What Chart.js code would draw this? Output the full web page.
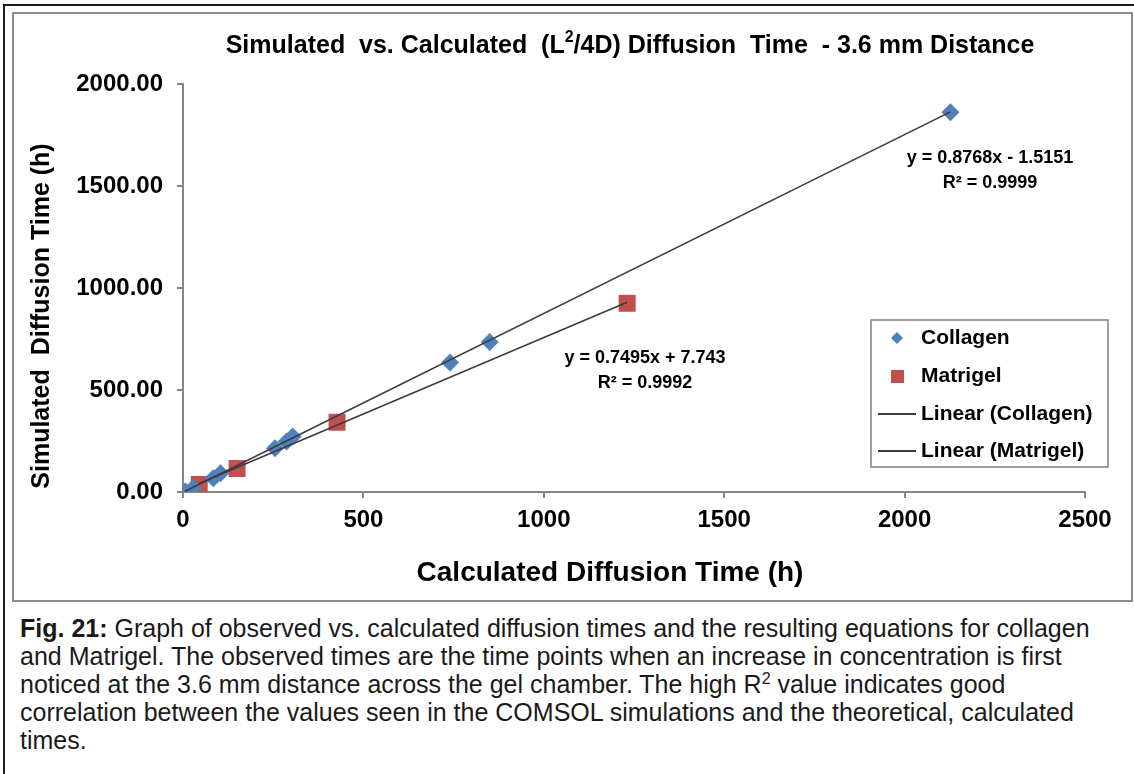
<!DOCTYPE html>
<html lang="en">
<head>
    <meta charset="UTF-8">
    <title>Simulated vs. Calculated Diffusion Time - 3.6 mm Distance</title>
    <style>
        body {
            margin: 0;
            background-color: #ffffff;
            font-family: Arial, "Liberation Sans", sans-serif;
        }
        .page {
            position: relative;
            width: 1134px;
            height: 774px;
            overflow: hidden;
        }
        .outer {
            position: absolute;
            left: 3px;
            top: 4px;
            width: 1150px;
            height: 800px;
            border: 2px solid #1e1e1e;
        }
        .frame {
            position: absolute;
            left: 12px;
            top: 12px;
            width: 1117px;
            height: 586px;
            border: 2px solid #8c8c8c;
            background-color: #ffffff;
        }
        .chart-box {
            position: absolute;
            left: 14px;
            top: 14px;
            width: 1116px;
            height: 584px;
        }
        .caption {
            position: absolute;
            left: 20px;
            top: 614px;
            font-size: 25px;
            line-height: 28px;
            color: #1a1a1a;
            white-space: nowrap;
        }
        .caption sup {
            font-size: 16px;
            line-height: 0;
        }
    </style>
    <script src="https://cdn.jsdelivr.net/npm/chart.js@4"></script>
</head>
<body>
<div class="page">
    <div class="outer"></div>
    <div class="frame"></div>
    <div class="chart-box"><canvas id="chart"></canvas></div>
    <div class="caption">
        <b>Fig. 21:</b> Graph of observed vs. calculated diffusion times and the resulting equations for collagen<br>
        and Matrigel. The observed times are the time points when an increase in concentration is first<br>
        noticed at the 3.6 mm distance across the gel chamber. The high R<sup>2</sup> value indicates good<br>
        correlation between the values seen in the COMSOL simulations and the theoretical, calculated<br>
        times.
    </div>
</div>
<script>
    // calculated (x) vs simulated (y) diffusion times, hours
    const collagenX = [6, 28, 84, 104, 255, 287, 304, 740, 850, 2127];
    const collagenY = [2, 20, 68, 92, 214, 248, 272, 635, 735, 1862];
    const matrigelX = [45, 150, 427, 1231];
    const matrigelY = [37, 115, 342, 925];

    // trendline equations printed on the chart
    const collagenFit = { slope: 0.8768, intercept: -1.5151, r2: '0.9999' };
    const matrigelFit = { slope: 0.7495, intercept: 7.743, r2: '0.9992' };

    const xTicks = [0, 500, 1000, 1500, 2000, 2500];
    const yTicks = [0, 500, 1000, 1500, 2000];

    const blue = '#4f81bd';
    const red = '#c0504d';
    const lineColor = '#3c3c3c';
    const axisColor = '#868686';
    const fontFamily = 'Arial, "Liberation Sans", sans-serif';

    function points(xs, ys) {
        return xs.map((x, i) => ({ x: x, y: ys[i] }));
    }

    function fitLine(xs, fit) {
        const lo = Math.min(...xs), hi = Math.max(...xs);
        return [lo, hi].map(x => ({ x: x, y: fit.slope * x + fit.intercept }));
    }

    function drawSuperTitle(ctx, x, y, parts, size) {
        // parts: [text, isSuper]
        const fontOf = p => 'bold ' + (p[1] ? Math.round(size * 0.62) : size) + 'px ' + fontFamily;
        let total = 0;
        parts.forEach(p => {
            ctx.font = fontOf(p);
            total += ctx.measureText(p[0]).width;
        });
        let cx = x - total / 2;
        ctx.textAlign = 'left';
        ctx.textBaseline = 'middle';
        parts.forEach(p => {
            ctx.font = fontOf(p);
            ctx.fillText(p[0], cx, p[1] ? y - size * 0.35 : y);
            cx += ctx.measureText(p[0]).width;
        });
    }

    const textPlugin = {
        id: 'textPlugin',
        afterDraw(chart) {
            const ctx = chart.ctx;
            ctx.save();
            ctx.fillStyle = '#000000';

            // chart title
            drawSuperTitle(ctx, 616, 32, [
                ['Simulated  vs. Calculated  (L', false],
                ['2', true],
                ['/4D) Diffusion  Time  - 3.6 mm Distance', false]
            ], 25);

            // axis titles
            ctx.textAlign = 'center';
            ctx.textBaseline = 'middle';
            ctx.font = 'bold 28px ' + fontFamily;
            ctx.fillText('Calculated Diffusion Time (h)', 596, 559);
            ctx.save();
            ctx.translate(28, 302);
            ctx.rotate(-Math.PI / 2);
            ctx.font = 'bold 25px ' + fontFamily;
            ctx.fillText('Simulated  Diffusion Time (h)', 0, 0);
            ctx.restore();

            // trendline equations
            ctx.font = 'bold 18px ' + fontFamily;
            ctx.fillText('y = ' + collagenFit.slope + 'x - ' + Math.abs(collagenFit.intercept), 976, 144);
            ctx.fillText('R² = ' + collagenFit.r2, 976, 169);
            ctx.fillText('y = ' + matrigelFit.slope + 'x + ' + matrigelFit.intercept, 631, 344);
            ctx.fillText('R² = ' + matrigelFit.r2, 631, 369);

            // legend box
            const lx = 857, ly = 306, lw = 237, lh = 147;
            ctx.fillStyle = '#ffffff';
            ctx.fillRect(lx, ly, lw, lh);
            ctx.strokeStyle = '#7f7f7f';
            ctx.lineWidth = 1.5;
            ctx.strokeRect(lx, ly, lw, lh);

            const rows = [324, 362, 400, 437];
            ctx.fillStyle = blue;
            ctx.beginPath();
            ctx.moveTo(883, rows[0] - 6);
            ctx.lineTo(889, rows[0]);
            ctx.lineTo(883, rows[0] + 6);
            ctx.lineTo(877, rows[0]);
            ctx.closePath();
            ctx.fill();
            ctx.fillStyle = red;
            ctx.fillRect(877, rows[1] - 6, 13, 13);
            ctx.strokeStyle = lineColor;
            ctx.lineWidth = 2;
            [rows[2], rows[3]].forEach(r => {
                ctx.beginPath();
                ctx.moveTo(864, r);
                ctx.lineTo(902, r);
                ctx.stroke();
            });

            ctx.fillStyle = '#000000';
            ctx.textAlign = 'left';
            ctx.font = 'bold 21px ' + fontFamily;
            chart.data.datasets.forEach((d, i) => {
                ctx.fillText(d.label, 907, rows[i]);
            });
            ctx.restore();
        }
    };

    const tickFont = { family: fontFamily, size: 24, weight: 'bold' };

    new Chart(document.getElementById('chart'), {
        type: 'scatter',
        data: {
            datasets: [
                {
                    label: 'Collagen',
                    data: points(collagenX, collagenY),
                    pointStyle: 'rectRot',
                    pointRadius: 9,
                    pointHoverRadius: 9,
                    backgroundColor: blue,
                    borderWidth: 0,
                    order: 2
                },
                {
                    label: 'Matrigel',
                    data: points(matrigelX, matrigelY),
                    pointStyle: 'rect',
                    pointRadius: 12,
                    pointHoverRadius: 12,
                    backgroundColor: red,
                    borderWidth: 0,
                    order: 2
                },
                {
                    label: 'Linear (Collagen)',
                    data: fitLine(collagenX, collagenFit),
                    showLine: true,
                    pointRadius: 0,
                    borderColor: lineColor,
                    borderWidth: 1.6,
                    order: 0
                },
                {
                    label: 'Linear (Matrigel)',
                    data: fitLine(matrigelX, matrigelFit),
                    showLine: true,
                    pointRadius: 0,
                    borderColor: lineColor,
                    borderWidth: 1.6,
                    order: 0
                }
            ]
        },
        options: {
            responsive: true,
            maintainAspectRatio: false,
            animation: false,
            layout: { padding: { left: 0, right: 45, top: 70, bottom: 0 } },
            plugins: {
                legend: { display: false },
                title: { display: false },
                tooltip: { enabled: false }
            },
            scales: {
                x: {
                    type: 'linear',
                    min: xTicks[0],
                    max: xTicks[xTicks.length - 1],
                    afterBuildTicks: s => { s.ticks = xTicks.map(v => ({ value: v })); },
                    afterFit: s => { s.height = 106; },
                    ticks: { font: tickFont, color: '#000000', padding: 8, callback: v => String(v) },
                    grid: { drawOnChartArea: false, drawTicks: true, tickLength: 6, color: axisColor, lineWidth: 2 },
                    border: { color: axisColor, width: 2 }
                },
                y: {
                    type: 'linear',
                    min: yTicks[0],
                    max: yTicks[yTicks.length - 1],
                    afterBuildTicks: s => { s.ticks = yTicks.map(v => ({ value: v })); },
                    afterFit: s => { s.width = 169; },
                    ticks: { font: tickFont, color: '#000000', padding: 14, callback: v => v.toFixed(2) },
                    grid: { drawOnChartArea: false, drawTicks: true, tickLength: 6, color: axisColor, lineWidth: 2 },
                    border: { color: axisColor, width: 2 }
                }
            }
        },
        plugins: [textPlugin]
    });
</script>
</body>
</html>
